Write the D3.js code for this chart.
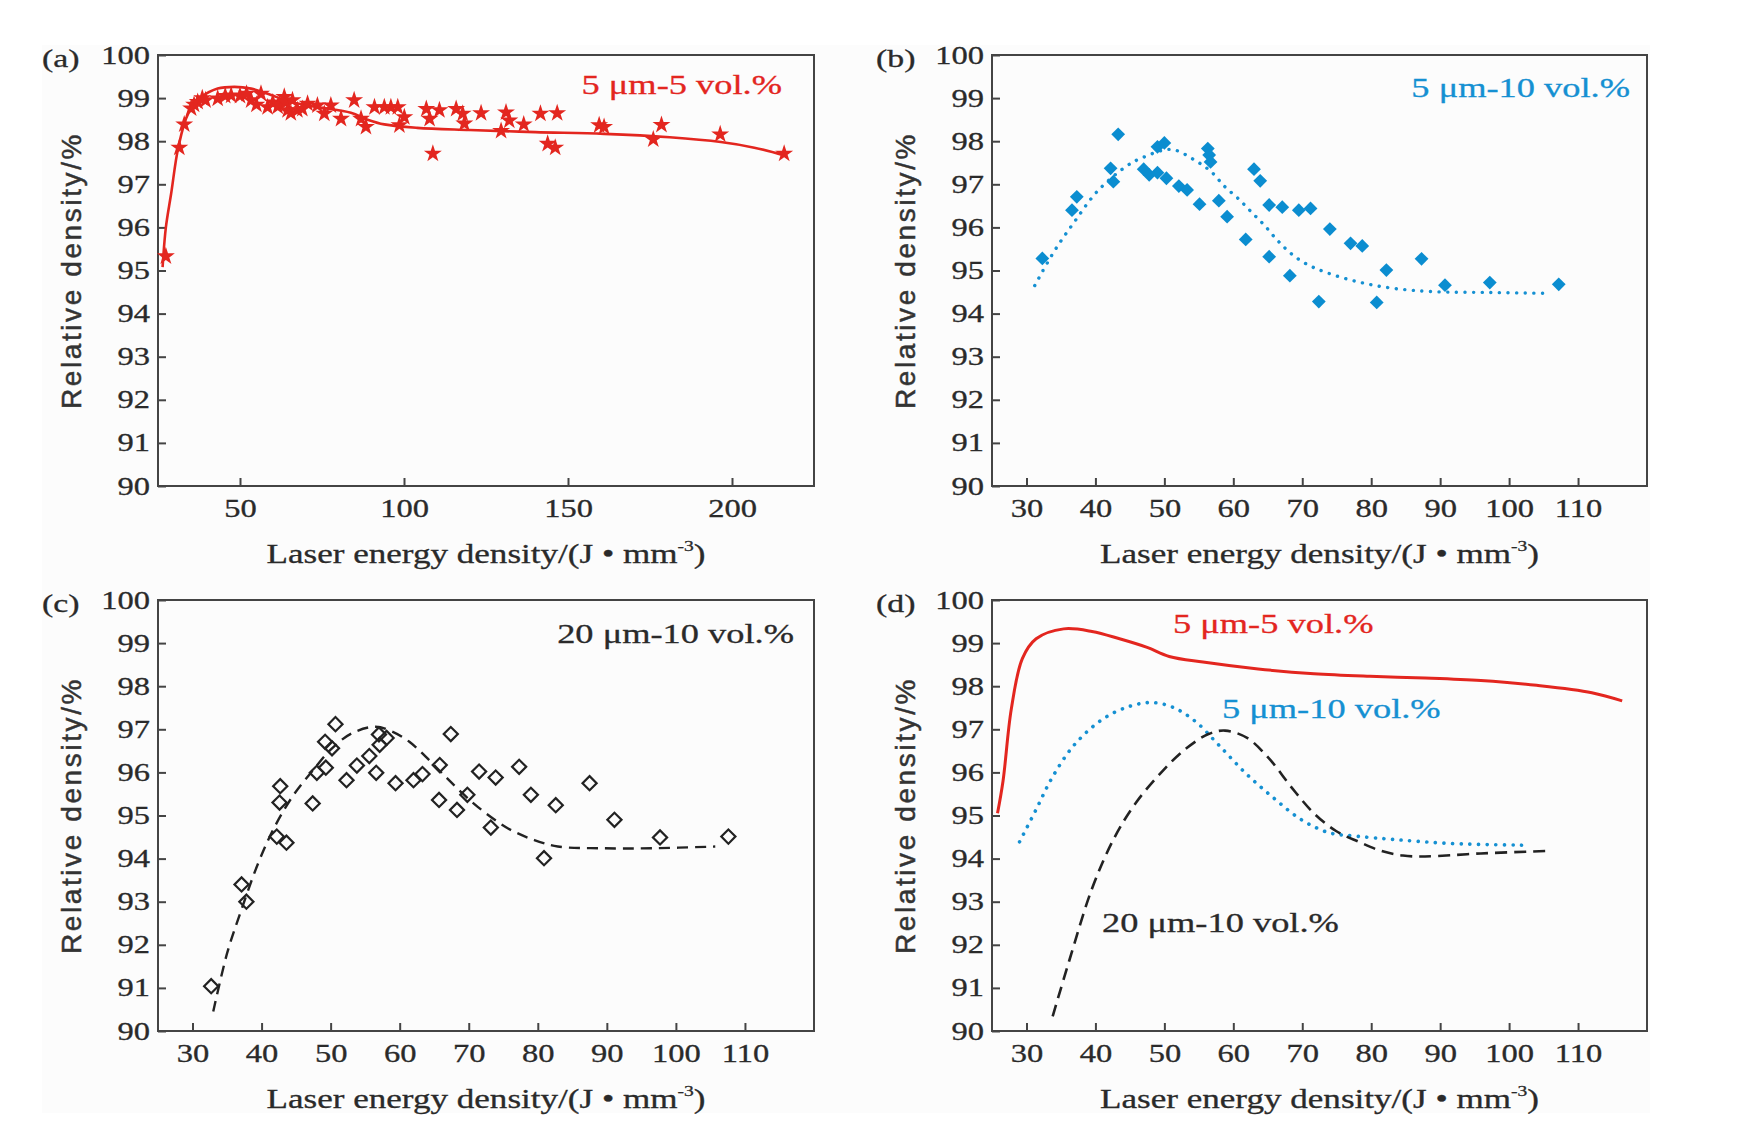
<!DOCTYPE html>
<html>
<head>
<meta charset="utf-8">
<script src="https://cdn.jsdelivr.net/npm/d3@7"></script>
<style>
  body { margin: 0; background: #fff; }
  svg { display: block; }
</style>
</head>
<body>
<svg id="chart" width="1738" height="1129"></svg>
<script>
// ---- data ----
const yTicks = [90, 91, 92, 93, 94, 95, 96, 97, 98, 99, 100];
const xTicksA = [50, 100, 150, 200];
const xTicksB = [30, 40, 50, 60, 70, 80, 90, 100, 110];

// (a) 5 um - 5 vol.%  : measured points (stars) and fitted curve
const starsA = [
  [27.4, 95.33], [31.5, 97.85], [33.0, 98.39], [35.1, 98.76], [36.0, 98.85], [37.1, 98.91],
  [38.5, 99.0], [39.5, 98.95], [43.2, 98.99], [45.5, 99.05], [47.3, 99.06], [50.0, 99.05],
  [52.0, 99.1], [53.4, 98.95], [55.0, 98.85], [56.4, 99.1], [58.4, 98.79], [60.0, 98.9],
  [61.5, 98.8], [62.0, 98.85], [63.5, 99.03], [64.0, 98.9], [64.5, 98.72], [65.5, 98.65],
  [66.0, 98.95], [67.5, 98.72], [69.0, 98.75], [70.6, 98.87], [73.6, 98.83], [75.7, 98.64],
  [77.7, 98.83], [80.8, 98.52], [84.8, 98.95], [86.9, 98.52], [88.4, 98.33], [91.0, 98.79],
  [94.0, 98.79], [96.0, 98.79], [98.1, 98.79], [98.6, 98.37], [100.1, 98.56], [106.8, 98.75],
  [107.8, 98.52], [108.8, 97.71], [110.8, 98.72], [115.9, 98.75], [117.9, 98.64], [118.4, 98.41],
  [123.5, 98.65], [129.6, 98.24], [131.1, 98.67], [132.1, 98.48], [136.5, 98.39], [141.6, 98.64],
  [143.8, 97.94], [146.1, 97.85], [146.7, 98.65], [159.5, 98.37], [161.0, 98.33], [176.0, 98.04],
  [178.5, 98.38], [196.4, 98.16], [215.9, 97.71]
];
const fitA = [
  [26.4, 95.08], [27.4, 96.0], [29.0, 96.78], [31.2, 97.86], [34.2, 98.64], [38.2, 99.02],
  [43.2, 99.22], [48.3, 99.26], [53.4, 99.22], [58.4, 99.1], [65.6, 98.91], [73.6, 98.79],
  [83.8, 98.66], [88.9, 98.5], [94.0, 98.39], [104.0, 98.31], [120.0, 98.26], [140.0, 98.21],
  [161.0, 98.17], [181.0, 98.09], [196.6, 97.98], [206.8, 97.85], [216.0, 97.67]
];

// (b) 5 um - 10 vol.%
const diamondsB = [
  [32.3, 95.28], [36.6, 96.40], [37.3, 96.71], [42.2, 97.37], [42.6, 97.06], [43.3, 98.16],
  [47.0, 97.35], [47.8, 97.22], [49.0, 97.27], [49.0, 97.87], [50.0, 97.96], [50.3, 97.14],
  [52.1, 96.96], [53.3, 96.87], [55.1, 96.54], [56.3, 97.83], [56.5, 97.68], [56.7, 97.52],
  [57.9, 96.62], [59.1, 96.25], [61.8, 95.72], [63.0, 97.35], [63.9, 97.08], [65.2, 96.52],
  [65.2, 95.32], [67.1, 96.47], [68.2, 94.88], [69.5, 96.40], [71.2, 96.44], [72.4, 94.28],
  [74.0, 95.96], [77.0, 95.63], [78.7, 95.57], [80.8, 94.26], [82.2, 95.01], [87.3, 95.27],
  [90.7, 94.66], [97.2, 94.72], [107.2, 94.68]
];
const fitB = [
  [31.2, 94.65], [34.0, 95.44], [37.0, 96.14], [40.3, 96.84], [44.5, 97.42], [47.0, 97.63],
  [51.0, 97.81], [54.4, 97.56], [56.8, 97.29], [58.8, 96.94], [60.7, 96.67], [62.6, 96.36],
  [64.5, 96.05], [66.4, 95.7], [68.4, 95.39], [70.5, 95.16], [73.2, 94.97], [78.0, 94.74],
  [83.0, 94.59], [89.0, 94.51], [97.4, 94.49], [105.6, 94.47]
];

// (c) 20 um - 10 vol.%
const diamondsC = [
  [32.7, 91.04], [37.1, 93.40], [37.8, 93.0], [42.2, 94.51], [43.6, 94.37], [42.6, 95.30],
  [42.7, 95.68], [47.4, 95.28], [48.0, 95.99], [49.3, 96.11], [49.2, 96.71], [50.2, 96.56],
  [50.7, 97.12], [52.3, 95.82], [53.8, 96.16], [55.6, 96.38], [56.6, 95.99], [57.1, 96.64],
  [57.0, 96.88], [58.1, 96.80], [59.4, 95.75], [62.0, 95.82], [63.3, 95.96], [65.8, 96.17],
  [65.7, 95.36], [67.4, 96.89], [68.3, 95.13], [69.8, 95.48], [71.5, 96.02], [73.2, 94.72],
  [73.9, 95.88], [77.3, 96.13], [79.0, 95.48], [80.9, 94.01], [82.6, 95.24], [87.5, 95.75],
  [91.1, 94.90], [97.7, 94.49], [107.6, 94.51]
];
const fitC = [
  [33.0, 90.45], [35.0, 91.8], [36.9, 92.73], [39.5, 93.89], [41.9, 94.74], [44.6, 95.47],
  [47.3, 96.02], [50.2, 96.56], [53.1, 96.91], [56.5, 97.06], [58.9, 96.95], [61.4, 96.71],
  [63.8, 96.36], [66.2, 95.97], [68.6, 95.59], [71.3, 95.2], [75.7, 94.7], [79.5, 94.43],
  [82.9, 94.28], [89.2, 94.24], [96.5, 94.24], [105.7, 94.28]
];

// (d) the three fitted curves compared
const fitD5_5 = [
  [25.8, 95.05], [26.6, 95.8], [27.8, 97.47], [29.4, 98.64], [31.4, 99.1], [35.4, 99.33],
  [39.5, 99.27], [43.5, 99.1], [47.5, 98.9], [50.7, 98.69], [55.6, 98.56], [63.6, 98.4],
  [71.7, 98.29], [79.8, 98.23], [87.8, 98.19], [95.9, 98.13], [104.0, 98.02], [112.0, 97.85],
  [116.4, 97.66]
];
const fitD5_10 = [
  [29.0, 94.39], [31.4, 95.14], [33.8, 95.9], [37.0, 96.65], [41.1, 97.24], [45.1, 97.54],
  [48.3, 97.62], [51.4, 97.5], [54.6, 97.17], [57.8, 96.65], [61.8, 95.98], [65.9, 95.4],
  [69.9, 94.9], [73.9, 94.6], [77.9, 94.52], [83.6, 94.44], [91.6, 94.35], [102.5, 94.31]
];
const fitD20_10 = [
  [33.8, 90.34], [36.2, 91.63], [39.5, 93.3], [42.7, 94.47], [45.9, 95.3], [49.9, 96.06],
  [53.2, 96.56], [56.4, 96.89], [58.8, 96.97], [62.0, 96.8], [65.3, 96.3], [68.5, 95.64],
  [71.7, 95.05], [74.9, 94.64], [78.2, 94.39], [81.4, 94.18], [84.6, 94.07], [87.8, 94.05],
  [95.9, 94.12], [106.0, 94.18]
];

// ---- drawing ----
const RED = "#e3261f", BLUE = "#1590d2", BLACK = "#222", INK = "#2a2a2a";
const SERIF = "'Liberation Serif','Times New Roman',serif";
const SANS = "'Liberation Sans',Arial,sans-serif";
const SX = 1.3;   // the figure's lettering is stretched sideways

const svg = d3.select("#chart");
svg.append("rect")
  .attr("x", 42).attr("y", 45).attr("width", 1608).attr("height", 1068)
  .attr("fill", "#fcfcfc");

// stretched text helper
const label = (g, x, y, txt, size, color, anchor) => {
  return g.append("text")
    .attr("transform", `translate(${x},${y}) scale(${SX},1)`)
    .attr("text-anchor", anchor || "start")
    .style("font-family", SERIF)
    .style("font-size", size + "px")
    .attr("fill", color)
    .attr("stroke", color).attr("stroke-width", 0.3)
    .text(txt);
};

const drawPanel = (opt) => {
  const x = d3.scaleLinear().domain(opt.xDomain).range(opt.xRange);
  const y = d3.scaleLinear().domain([90, 100]).range([opt.yRange[1], opt.yRange[0]]);
  const g = svg.append("g");

  const yAxis = g.append("g")
    .attr("transform", `translate(${opt.xRange[0]},0)`)
    .call(d3.axisLeft(y).tickValues(yTicks).tickSizeInner(-8).tickSizeOuter(0).tickPadding(8));
  const xAxis = g.append("g")
    .attr("transform", `translate(0,${opt.yRange[1]})`)
    .call(d3.axisBottom(x).tickValues(opt.xTicks).tickSizeInner(-8).tickSizeOuter(0).tickPadding(13));

  [yAxis, xAxis].forEach((a) => {
    a.select(".domain").remove();
    a.selectAll(".tick line").attr("stroke", "#444").attr("stroke-width", 2);
    a.selectAll(".tick text")
      .style("font-family", SERIF).style("font-size", "25px")
      .attr("fill", INK).attr("stroke", INK).attr("stroke-width", 0.3);
  });
  yAxis.selectAll(".tick text").attr("x", -8 / SX).attr("transform", `scale(${SX},1)`);
  xAxis.selectAll(".tick text").attr("transform", `scale(${SX},1)`);

  // frame
  g.append("rect")
    .attr("x", opt.xRange[0]).attr("y", opt.yRange[0])
    .attr("width", opt.xRange[1] - opt.xRange[0]).attr("height", opt.yRange[1] - opt.yRange[0])
    .attr("fill", "none").attr("stroke", "#444").attr("stroke-width", 2);

  // panel letter
  label(g, opt.xRange[0] - 116, opt.yRange[0] + 12, opt.letter, 26, INK);

  // axis titles
  const cx = (opt.xRange[0] + opt.xRange[1]) / 2;
  const xt = g.append("text")
    .attr("transform", `translate(${cx},${opt.yRange[1] + 77}) scale(${SX},1)`)
    .attr("text-anchor", "middle")
    .style("font-family", SERIF).style("font-size", "27px")
    .attr("fill", INK).attr("stroke", INK).attr("stroke-width", 0.3);
  xt.append("tspan").text("Laser energy density/(J \u2022 mm");
  xt.append("tspan").attr("dy", -12).style("font-size", "15px").text("-3");
  xt.append("tspan").attr("dy", 12).text(")");

  const cy = (opt.yRange[0] + opt.yRange[1]) / 2;
  g.append("text")
    .attr("transform", `translate(${opt.xRange[0] - 87},${cy}) rotate(-90)`)
    .attr("text-anchor", "middle")
    .attr("dominant-baseline", "central")
    .style("font-family", SANS).style("font-size", "28px")
    .style("letter-spacing", "2.6px")
    .attr("fill", "#333").attr("stroke", "#333").attr("stroke-width", 0.5)
    .text("Relative density/%");

  return { x, y, g };
};

const line = (p) => d3.line()
  .x((d) => p.x(d[0])).y((d) => p.y(d[1]))
  .curve(d3.curveCatmullRom);

const LEFT = [158, 814], RIGHT = [992, 1647];
const TOP = [55, 486], BOTTOM = [600, 1031];

// (a)
const pa = drawPanel({ xDomain: [25, 225], xRange: LEFT, yRange: TOP, xTicks: xTicksA, letter: "(a)" });
pa.g.append("path").datum(fitA).attr("d", line(pa))
  .attr("fill", "none").attr("stroke", RED).attr("stroke-width", 2.6);
pa.g.selectAll(".star").data(starsA).enter().append("path")
  .attr("d", d3.symbol(d3.symbolStar, 100))
  .attr("transform", (d) => `translate(${pa.x(d[0])},${pa.y(d[1])})`)
  .attr("fill", RED);
label(pa.g, 782, 94, "5 \u03bcm-5 vol.%", 28, RED, "end");

// (b)
const pb = drawPanel({ xDomain: [25, 120], xRange: RIGHT, yRange: TOP, xTicks: xTicksB, letter: "(b)" });
pb.g.append("path").datum(fitB).attr("d", line(pb))
  .attr("fill", "none").attr("stroke", BLUE).attr("stroke-width", 3.4)
  .attr("stroke-linecap", "round").attr("stroke-dasharray", "0.1 8.5");
pb.g.selectAll(".dia").data(diamondsB).enter().append("path")
  .attr("d", d3.symbol(d3.symbolSquare, 95))
  .attr("transform", (d) => `translate(${pb.x(d[0])},${pb.y(d[1])}) rotate(45)`)
  .attr("fill", "#0b8dd0");
label(pb.g, 1630, 97, "5 \u03bcm-10 vol.%", 28, BLUE, "end");

// (c)
const pc = drawPanel({ xDomain: [25, 120], xRange: LEFT, yRange: BOTTOM, xTicks: xTicksB, letter: "(c)" });
pc.g.append("path").datum(fitC).attr("d", line(pc))
  .attr("fill", "none").attr("stroke", BLACK).attr("stroke-width", 2.4)
  .attr("stroke-dasharray", "11 7");
pc.g.selectAll(".odia").data(diamondsC).enter().append("path")
  .attr("d", d3.symbol(d3.symbolSquare, 100))
  .attr("transform", (d) => `translate(${pc.x(d[0])},${pc.y(d[1])}) rotate(45)`)
  .attr("fill", "none").attr("stroke", BLACK).attr("stroke-width", 2.2);
label(pc.g, 794, 643, "20 \u03bcm-10 vol.%", 28, INK, "end");

// (d)
const pd = drawPanel({ xDomain: [25, 120], xRange: RIGHT, yRange: BOTTOM, xTicks: xTicksB, letter: "(d)" });
pd.g.append("path").datum(fitD5_5).attr("d", line(pd))
  .attr("fill", "none").attr("stroke", RED).attr("stroke-width", 3);
pd.g.append("path").datum(fitD5_10).attr("d", line(pd))
  .attr("fill", "none").attr("stroke", BLUE).attr("stroke-width", 3.6)
  .attr("stroke-linecap", "round").attr("stroke-dasharray", "0.1 8.5");
pd.g.append("path").datum(fitD20_10).attr("d", line(pd))
  .attr("fill", "none").attr("stroke", BLACK).attr("stroke-width", 2.6)
  .attr("stroke-dasharray", "12 7");
label(pd.g, 1173, 633, "5 \u03bcm-5 vol.%", 28, RED);
label(pd.g, 1222, 718, "5 \u03bcm-10 vol.%", 28, BLUE);
label(pd.g, 1102, 932, "20 \u03bcm-10 vol.%", 28, INK);
</script>
</body>
</html>
